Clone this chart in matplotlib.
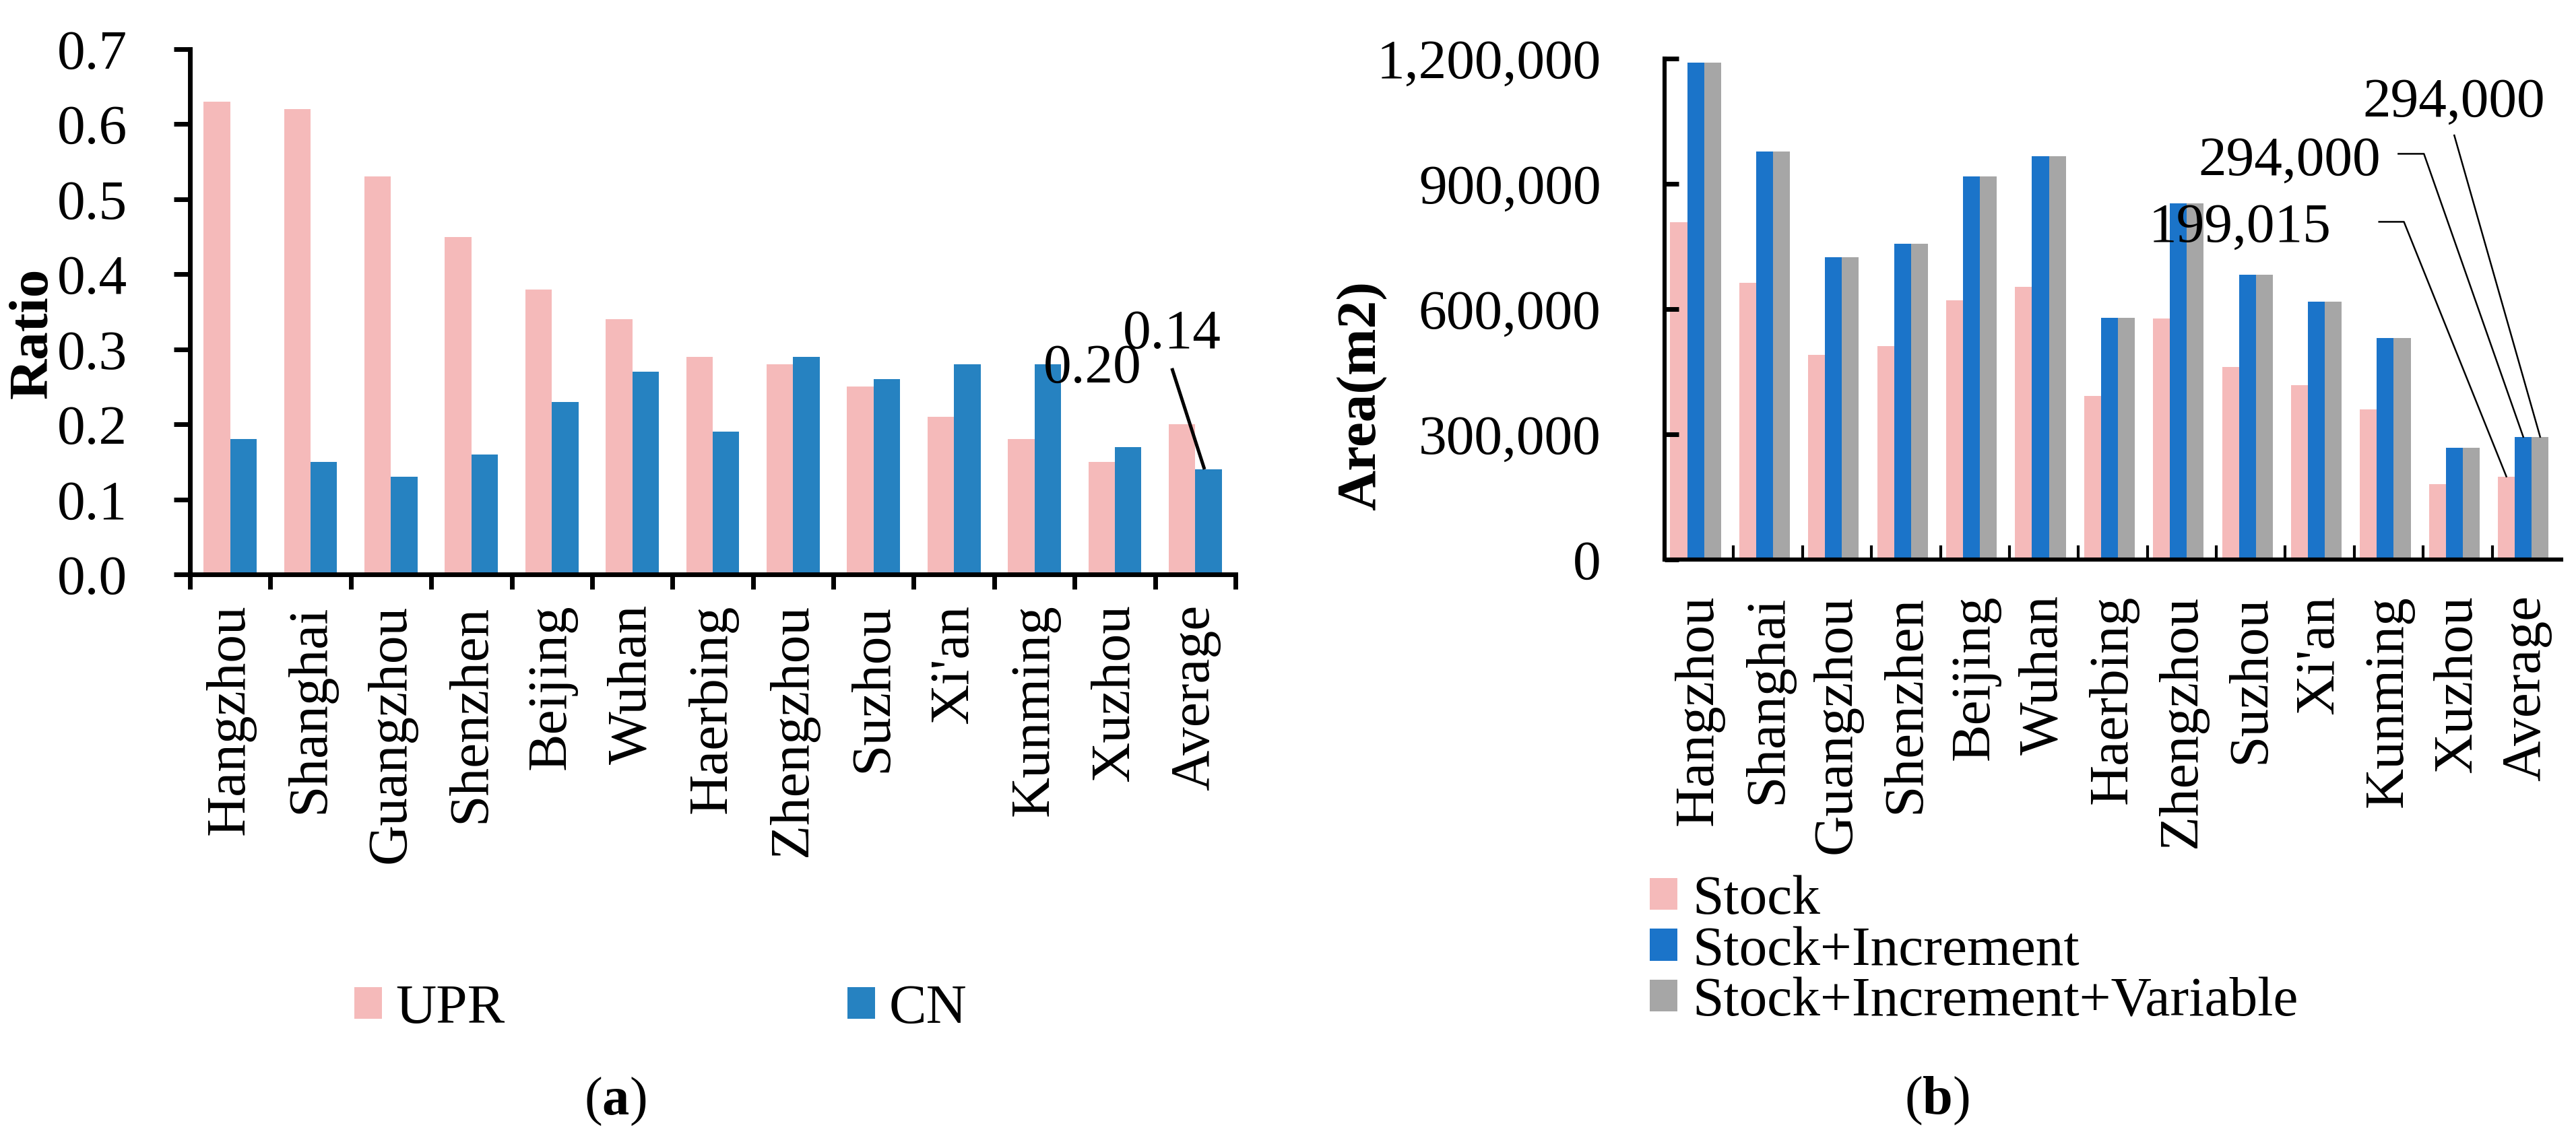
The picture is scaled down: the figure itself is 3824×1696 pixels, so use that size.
"""
Two-panel bar chart: (a) UPR vs CN ratio, (b) stock / increment areas by city.
"""
import matplotlib
matplotlib.use("Agg")
import matplotlib.pyplot as plt
import numpy as np
from matplotlib.ticker import FuncFormatter

CITIES = ["Hangzhou", "Shanghai", "Guangzhou", "Shenzhen", "Beijing", "Wuhan",
          "Haerbing", "Zhengzhou", "Suzhou", "Xi'an", "Kunming", "Xuzhou", "Average"]

# panel (a)
UPR = [0.63, 0.62, 0.53, 0.45, 0.38, 0.34, 0.29, 0.28, 0.25, 0.21, 0.18, 0.15, 0.20]
CN = [0.18, 0.15, 0.13, 0.16, 0.23, 0.27, 0.19, 0.29, 0.26, 0.28, 0.28, 0.17, 0.14]

# panel (b)
STOCK = [808000, 663000, 491000, 512000, 621000, 653000, 392000, 577000, 462000,
         418000, 359000, 181000, 199015]
STOCK_INC = [1190000, 977000, 725000, 756000, 918000, 966000, 579000, 853000, 683000,
             617000, 530000, 267000, 294000]
STOCK_INC_VAR = [1190000, 977000, 725000, 756000, 918000, 966000, 579000, 853000, 683000,
                 617000, 530000, 267000, 294000]

PINK = "#F5BABA"
BLUE_A = "#2682C1"
BLUE_B = "#1B74C9"
GREY = "#A6A6A6"

W, H, DPI = 3824, 1696, 200
FS = 30

plt.rcParams["font.family"] = ["Liberation Serif", "DejaVu Serif"]
plt.rcParams["mathtext.fontset"] = "custom"
plt.rcParams["mathtext.rm"] = "Liberation Serif"
plt.rcParams["mathtext.bf"] = "Liberation Serif:bold"


def px_box(x0, y_top, x1, y_bot):
    return [x0 / W, 1 - y_bot / H, (x1 - x0) / W, (y_bot - y_top) / H]


def main() -> None:
    fig = plt.figure(figsize=(W / DPI, H / DPI), dpi=DPI)
    x = np.arange(len(CITIES))

    # ---------------- (a) ----------------
    ax1 = fig.add_axes(px_box(282, 73, 1834, 853))
    bw = 0.33
    b_upr = ax1.bar(x - bw / 2, UPR, bw, color=PINK, label="UPR")
    b_cn = ax1.bar(x + bw / 2, CN, bw, color=BLUE_A, label="CN")
    ax1.set_xlim(-0.5, len(CITIES) - 0.5)
    ax1.set_ylim(0, 0.7)
    ax1.set_yticks(np.arange(0, 0.71, 0.1))
    ax1.yaxis.set_major_formatter(FuncFormatter(lambda v, p: f"{v:.1f}"))
    ax1.set_xticks(np.arange(-0.5, len(CITIES), 1.0))
    ax1.set_xticklabels([])
    ax1.set_xticks(x, minor=True)
    ax1.set_xticklabels(CITIES, minor=True, rotation=90)
    for s in ["top", "right"]:
        ax1.spines[s].set_visible(False)
    for s in ["left", "bottom"]:
        ax1.spines[s].set_linewidth(2.5)
    ax1.tick_params(axis="y", which="major", direction="out", length=8.5, width=2.5,
                    pad=25, labelsize=FS)
    ax1.tick_params(axis="x", which="major", direction="out", length=8, width=2.5)
    ax1.tick_params(axis="x", which="minor", length=0, pad=16, labelsize=FS)
    ax1.set_ylabel("Ratio", fontsize=FS, fontweight="bold")
    ax1.yaxis.set_label_coords(-0.125, 0.459)

    # labels on the Average bars
    ax1.text(10.72, 0.256, f"{UPR[-1]:.2f}", fontsize=FS, ha="center", va="baseline")
    ax1.text(11.71, 0.3016, f"{CN[-1]:.2f}", fontsize=FS, ha="center", va="baseline")
    ax1.plot([11.71, x[-1] + bw / 2 - 0.05], [0.2747, CN[-1]], color="black", lw=1.8,
             solid_capstyle="butt", clip_on=False)

    fig.legend(handles=[b_upr, b_cn], ncol=2, loc="upper left",
               bbox_to_anchor=(484 / W, 1 - 1420 / H), frameon=False, borderpad=0,
               handlelength=0.5, handleheight=0.5, handletextpad=0.24,
               columnspacing=6.1, fontsize=FS)

    # ---------------- (b) ----------------
    ax2 = fig.add_axes(px_box(2471, 87, 3802, 831))
    bw2 = 0.245
    shift = -0.05
    b_s = ax2.bar(x + shift - bw2, STOCK, bw2, color=PINK, label="Stock")
    b_si = ax2.bar(x + shift, STOCK_INC, bw2, color=BLUE_B, label="Stock+Increment")
    b_siv = ax2.bar(x + shift + bw2, STOCK_INC_VAR, bw2, color=GREY,
                    label="Stock+Increment+Variable")
    ax2.set_xlim(-0.5, len(CITIES) - 0.5)
    ax2.set_ylim(0, 1200000)
    ax2.set_yticks(np.arange(0, 1200001, 300000))
    ax2.yaxis.set_major_formatter(FuncFormatter(lambda v, p: f"{v:,.0f}"))
    ax2.set_xticks(np.arange(0.5, len(CITIES) - 1, 1.0))
    ax2.set_xticklabels([])
    ax2.set_xticks(x, minor=True)
    ax2.set_xticklabels(CITIES, minor=True, rotation=90)
    for s in ["top", "right"]:
        ax2.spines[s].set_visible(False)
    for s in ["left", "bottom"]:
        ax2.spines[s].set_linewidth(2.2)
    ax2.tick_params(axis="y", which="major", direction="in", length=7.5, width=2.5,
                    pad=34, labelsize=FS)
    ax2.tick_params(axis="x", which="major", direction="in", length=7.5, width=1.5)
    ax2.tick_params(axis="x", which="minor", length=0, pad=19, labelsize=FS)
    ax2.set_ylabel("Area(m2)", fontsize=FS, fontweight="bold")
    ax2.yaxis.set_label_coords(-0.309, 0.327)

    # leader-line labels on the Average group
    xa = x[-1] + shift
    ax2.text(10.94, 1062100, f"{STOCK_INC_VAR[-1]:,}", fontsize=FS, ha="center",
             va="baseline")
    ax2.plot([10.95, xa + bw2], [1016100, STOCK_INC_VAR[-1]], color="black", lw=0.9,
             clip_on=False)
    ax2.text(8.56, 920970, f"{STOCK_INC[-1]:,}", fontsize=FS, ha="center", va="baseline")
    ax2.plot([10.14, 10.51, xa], [971900, 971900, STOCK_INC[-1]], color="black", lw=0.9,
             clip_on=False)
    ax2.text(7.84, 761800, f"{STOCK[-1]:,}", fontsize=FS, ha="center", va="baseline")
    ax2.plot([9.86, 10.22, xa - bw2], [809000, 809000, STOCK[-1]], color="black", lw=0.9,
             clip_on=False)

    fig.legend(handles=[b_s, b_si, b_siv], ncol=1, loc="upper left",
               bbox_to_anchor=(2407 / W, 1 - 1258 / H), frameon=False, borderpad=0,
               handlelength=0.5, handleheight=0.5, handletextpad=0.26,
               labelspacing=0.0, fontsize=FS)

    # panel captions
    fig.text(913 / W, 1 - 1636 / H, r"($\mathbf{a}$)", fontsize=29, ha="center",
             va="center")
    fig.text(2875 / W, 1 - 1635 / H, r"($\mathbf{b}$)", fontsize=29, ha="center",
             va="center")

    fig.savefig("out.png", dpi=DPI)
    plt.close(fig)


if __name__ == "__main__":
    main()
